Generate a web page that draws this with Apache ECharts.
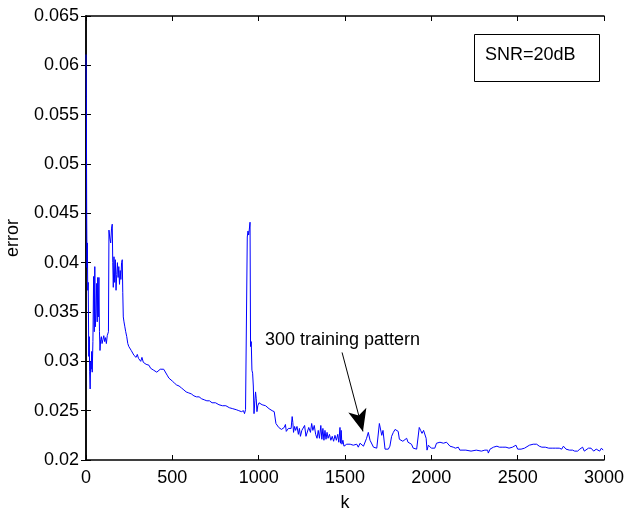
<!DOCTYPE html>
<html>
<head>
<meta charset="utf-8">
<script src="https://cdn.jsdelivr.net/npm/echarts@6/dist/echarts.min.js"></script>
<style>
  html, body { margin: 0; padding: 0; background: #fff; }
  #main { width: 624px; height: 513px; }
</style>
</head>
<body>
<div id="main"></div>
<script>
  // iteration index k
  var kSteps = [
    0, 2, 4, 6, 8, 10, 13, 16, 19, 21, 24, 27, 30, 33, 36, 40, 44, 48, 51, 54, 58, 62, 65, 68, 71, 75, 78, 81, 85, 89,
    93, 98, 103, 108, 113, 118, 123, 127, 130, 133, 138, 143, 148, 152, 155, 158, 162, 166, 170, 174, 178, 182, 186, 190, 194, 198, 202, 206, 210, 213,
    216, 220, 225, 230, 236, 242, 248, 255, 262, 270, 278, 284, 290, 297, 304, 310, 317, 324, 332, 340, 348, 356, 365, 374, 383, 392, 400, 410, 420, 430,
    440, 450, 460, 470, 480, 490, 500, 512, 525, 539, 553, 567, 580, 595, 610, 625, 640, 655, 670, 685, 700, 715, 730, 750, 770, 790, 810, 830, 850, 870,
    885, 900, 912, 918, 924, 930, 934, 938, 942, 946, 950, 953, 957, 961, 965, 969, 973, 978, 982, 986, 990, 995, 1002, 1010, 1020, 1030, 1040, 1050, 1060, 1070,
    1078, 1090, 1096, 1100, 1108, 1116, 1124, 1132, 1140, 1148, 1155, 1160, 1166, 1172, 1180, 1188, 1194, 1198, 1202, 1208, 1214, 1222, 1230, 1236, 1242, 1250, 1258, 1266, 1274, 1282,
    1290, 1300, 1307, 1314, 1322, 1330, 1338, 1345, 1352, 1360, 1366, 1372, 1378, 1384, 1390, 1396, 1402, 1410, 1418, 1426, 1434, 1442, 1450, 1458, 1464, 1471, 1474, 1478, 1482, 1488,
    1494, 1500, 1510, 1520, 1530, 1540, 1548, 1558, 1568, 1577, 1587, 1597, 1607, 1615, 1625, 1635, 1645, 1655, 1665, 1674, 1684, 1694, 1699, 1706, 1713, 1720, 1726, 1732, 1742, 1751,
    1760, 1770, 1780, 1790, 1800, 1808, 1815, 1825, 1835, 1845, 1857, 1865, 1875, 1885, 1895, 1905, 1915, 1925, 1930, 1938, 1946, 1955, 1965, 1970, 1975, 1983, 1990, 2000, 2010, 2020,
    2030, 2040, 2050, 2060, 2070, 2080, 2088, 2098, 2108, 2118, 2127, 2140, 2156, 2165, 2175, 2200, 2230, 2260, 2290, 2310, 2326, 2330, 2335, 2340, 2345, 2360, 2380, 2394, 2410, 2432,
    2450, 2470, 2490, 2500, 2510, 2520, 2530, 2540, 2548, 2568, 2590, 2600, 2610, 2625, 2640, 2660, 2680, 2700, 2720, 2741, 2755, 2765, 2770, 2780, 2790, 2800, 2818, 2830, 2847, 2860,
    2876, 2886, 2896, 2910, 2925, 2940, 2955, 2965, 2975, 2985, 2995
  ];
  // error at each k
  var errorValues = [
    0.0611, 0.0568, 0.0450, 0.0395, 0.0420, 0.0372, 0.0380, 0.0305, 0.0325, 0.0290, 0.0272, 0.0300, 0.0292, 0.0310, 0.0289, 0.0320, 0.0386, 0.0330, 0.0396, 0.0335, 0.0350, 0.0379, 0.0340, 0.0385, 0.0345, 0.0385, 0.0330, 0.0311, 0.0322, 0.0325,
    0.0318, 0.0322, 0.0326, 0.0320, 0.0324, 0.0318, 0.0326, 0.0328, 0.0330, 0.0433, 0.0425, 0.0420, 0.0435, 0.0439, 0.0400, 0.0375, 0.0406, 0.0380, 0.0403, 0.0372, 0.0388, 0.0400, 0.0385, 0.0396, 0.0378, 0.0392, 0.0383, 0.0400, 0.0403, 0.0370,
    0.0345, 0.0340, 0.0335, 0.0330, 0.0325, 0.0318, 0.0315, 0.0316, 0.0311, 0.0310, 0.0306, 0.0308, 0.0304, 0.0307, 0.0303, 0.0305, 0.0300, 0.0304, 0.0299, 0.0298, 0.0297, 0.0295, 0.0296, 0.0293, 0.0294, 0.0291, 0.0290, 0.0289, 0.0290, 0.0292,
    0.0292, 0.0292, 0.0290, 0.0286, 0.0283, 0.0281, 0.0280, 0.0278, 0.0276, 0.0275, 0.0273, 0.0271, 0.0269, 0.0268, 0.0267, 0.0265, 0.0264, 0.0264, 0.0262, 0.0261, 0.0260, 0.0260, 0.0258, 0.0258, 0.0256, 0.0255, 0.0255, 0.0253, 0.0252, 0.0251,
    0.0250, 0.0249, 0.0250, 0.0247, 0.0251, 0.0249, 0.0426, 0.0432, 0.0428, 0.0434, 0.0441, 0.0315, 0.0320, 0.0291, 0.0288, 0.0275, 0.0247, 0.0260, 0.0269, 0.0262, 0.0249, 0.0255, 0.0258, 0.0257, 0.0256, 0.0257, 0.0255, 0.0254, 0.0252, 0.0251,
    0.0250, 0.0249, 0.0250, 0.0237, 0.0236, 0.0233, 0.0234, 0.0231, 0.0230, 0.0233, 0.0236, 0.0229, 0.0228, 0.0232, 0.0230, 0.0232, 0.0244, 0.0238, 0.0228, 0.0234, 0.0230, 0.0234, 0.0226, 0.0232, 0.0224, 0.0230, 0.0228, 0.0235, 0.0224, 0.0226,
    0.0233, 0.0228, 0.0237, 0.0230, 0.0235, 0.0226, 0.0222, 0.0230, 0.0222, 0.0235, 0.0221, 0.0232, 0.0220, 0.0230, 0.0221, 0.0228, 0.0222, 0.0226, 0.0220, 0.0224, 0.0219, 0.0225, 0.0220, 0.0226, 0.0218, 0.0233, 0.0217, 0.0230, 0.0216, 0.0220,
    0.0214, 0.0213, 0.0216, 0.0218, 0.0216, 0.0217, 0.0215, 0.0214, 0.0216, 0.0213, 0.0217, 0.0216, 0.0214, 0.0216, 0.0222, 0.0228, 0.0220, 0.0218, 0.0213, 0.0211, 0.0212, 0.0213, 0.0237, 0.0235, 0.0225, 0.0230, 0.0228, 0.0211, 0.0212, 0.0211,
    0.0214, 0.0224, 0.0228, 0.0231, 0.0230, 0.0229, 0.0221, 0.0220, 0.0219, 0.0220, 0.0222, 0.0218, 0.0220, 0.0216, 0.0212, 0.0210, 0.0211, 0.0210, 0.0233, 0.0230, 0.0227, 0.0230, 0.0232, 0.0222, 0.0210, 0.0215, 0.0213, 0.0212, 0.0214, 0.0212,
    0.0217, 0.0215, 0.0218, 0.0216, 0.0217, 0.0215, 0.0218, 0.0216, 0.0214, 0.0215, 0.0213, 0.0212, 0.0213, 0.0210, 0.0210, 0.0210, 0.0209, 0.0210, 0.0209, 0.0210, 0.0210, 0.0207, 0.0207, 0.0211, 0.0213, 0.0213, 0.0214, 0.0213, 0.0213, 0.0213,
    0.0212, 0.0213, 0.0215, 0.0211, 0.0210, 0.0211, 0.0210, 0.0212, 0.0213, 0.0215, 0.0216, 0.0218, 0.0216, 0.0214, 0.0213, 0.0213, 0.0212, 0.0212, 0.0212, 0.0212, 0.0211, 0.0214, 0.0215, 0.0211, 0.0212, 0.0210, 0.0210, 0.0209, 0.0209, 0.0211,
    0.0213, 0.0209, 0.0209, 0.0212, 0.0212, 0.0209, 0.0211, 0.0213, 0.0209, 0.0212, 0.0210
  ];
  // arrow for the "300 training pattern" note: [k, error] from -> to
  var arrowFrom = [1483, 0.0309];
  var arrowTo = [1604, 0.0229];

  var lineData = kSteps.map(function (k, i) { return [k, errorValues[i]]; });

  var font = 'Arial, "Liberation Sans", Helvetica, sans-serif';
  var tickStyle = { show: true, inside: true, length: 5, lineStyle: { color: '#000' } };

  var myChart = echarts.init(document.getElementById('main'));
  myChart.setOption({
    animation: false,
    backgroundColor: '#fff',
    grid: { left: 86, right: 20, top: 16, bottom: 53, containLabel: false, outerBoundsMode: 'none' },
    xAxis: [{
      type: 'value',
      min: 0, max: 3000, interval: 500,
      name: 'k', nameLocation: 'middle', nameGap: 34,
      nameTextStyle: { color: '#000', fontSize: 18, fontFamily: font },
      axisLine: { lineStyle: { color: '#000', width: 1.5 } },
      axisTick: tickStyle,
      axisLabel: { color: '#000', fontSize: 18, fontFamily: font, margin: 9, formatter: function (v) { return String(v); } },
      splitLine: { show: false }
    }, {
      type: 'value', position: 'top',
      min: 0, max: 3000, interval: 500,
      axisLine: { show: true, lineStyle: { color: '#000', width: 1.5 } },
      axisTick: tickStyle,
      axisLabel: { show: false },
      splitLine: { show: false }
    }],
    yAxis: [{
      type: 'value',
      min: 0.02, max: 0.065, interval: 0.005,
      name: 'error', nameLocation: 'middle', nameGap: 64,
      nameTextStyle: { color: '#000', fontSize: 18, fontFamily: font },
      axisLine: { show: true, lineStyle: { color: '#000', width: 1.5 } },
      axisTick: tickStyle,
      axisLabel: { color: '#000', fontSize: 18, fontFamily: font, margin: 7 },
      splitLine: { show: false }
    }, {
      type: 'value', position: 'right',
      min: 0.02, max: 0.065, interval: 0.005,
      axisLine: { show: true, lineStyle: { color: '#000', width: 1.5 } },
      axisTick: tickStyle,
      axisLabel: { show: false },
      splitLine: { show: false }
    }],
    series: [{
      type: 'line',
      xAxisIndex: 0, yAxisIndex: 0,
      data: lineData,
      showSymbol: false,
      color: '#0000ff',
      lineStyle: { width: 1, color: '#0000ff' },
      markLine: {
        silent: true,
        symbol: ['none', 'arrow'],
        symbolSize: [14, 22],
        label: { show: false },
        lineStyle: { color: '#000', width: 1, type: 'solid' },
        data: [[{ coord: arrowFrom }, { coord: arrowTo }]]
      }
    }],
    graphic: [
      {
        type: 'text', left: 265, top: 331,
        style: { text: '300 training pattern', font: '18px ' + font, fill: '#000' }
      },
      {
        type: 'rect', left: 474, top: 34,
        shape: { width: 125, height: 47 },
        style: { fill: '#fff', stroke: '#000', lineWidth: 1 }
      },
      {
        type: 'text', left: 485, top: 46,
        style: { text: 'SNR=20dB', font: '18px ' + font, fill: '#000' }
      }
    ]
  });
</script>
</body>
</html>
